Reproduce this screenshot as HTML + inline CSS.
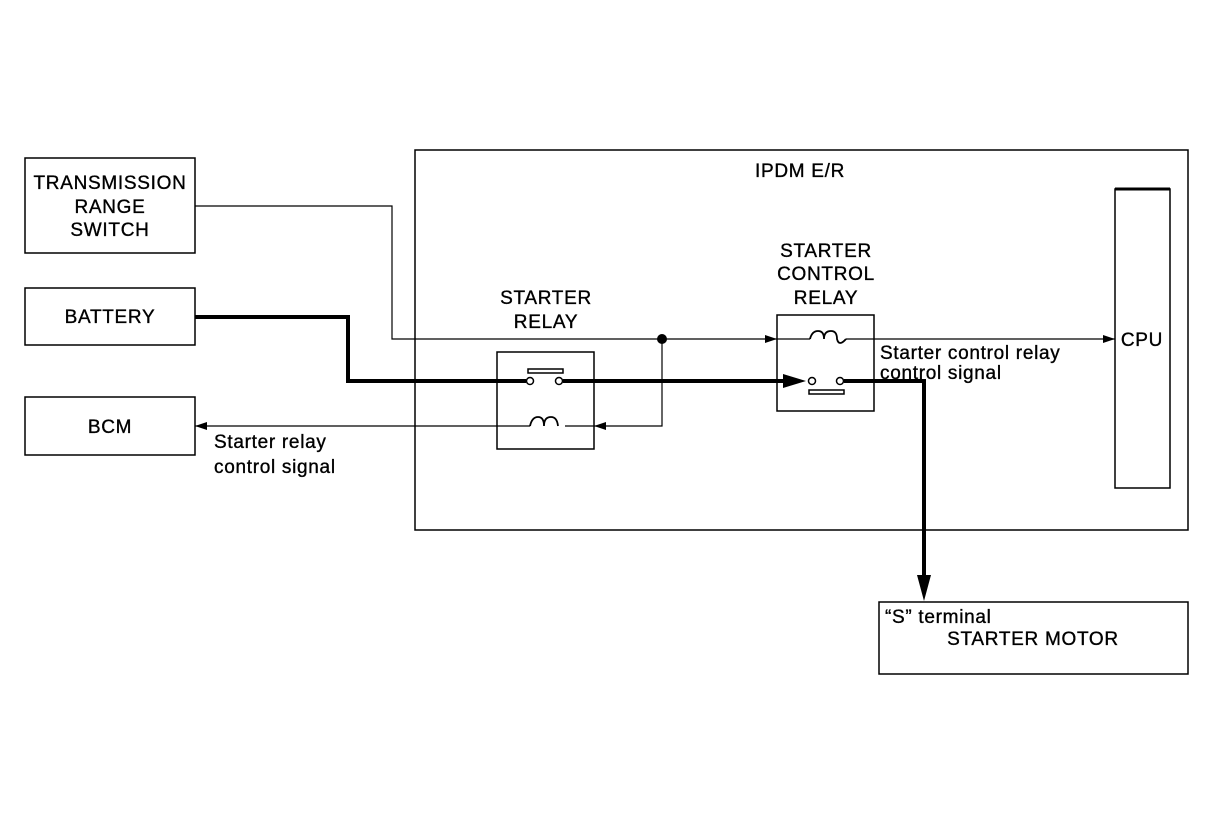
<!DOCTYPE html>
<html><head><meta charset="utf-8"><style>
html,body{margin:0;padding:0;background:#fff;}
svg{display:block;}
text{font-family:"Liberation Sans",Arial,sans-serif;font-size:19px;letter-spacing:0.7px;fill:#000;stroke:#000;stroke-width:0.35;}
</style></head><body>
<svg width="1216" height="824" viewBox="0 0 1216 824" xmlns="http://www.w3.org/2000/svg">
<defs>
<marker id="a" markerWidth="12" markerHeight="8" refX="12" refY="4" orient="auto" markerUnits="userSpaceOnUse"><path d="M0,0 L12,4 L0,8 Z" fill="#000"/></marker>
</defs>
<g fill="none" stroke="#000" stroke-width="1.5">
<rect x="25" y="158" width="170" height="95"/>
<rect x="25" y="288" width="170" height="57"/>
<rect x="25" y="397" width="170" height="58"/>
<rect x="415" y="150" width="773" height="380"/>
<rect x="1115" y="189" width="55" height="299"/>
<rect x="497" y="352" width="97" height="97"/>
<rect x="777" y="315" width="97" height="96"/>
<rect x="879" y="602" width="309" height="72"/>
</g>
<line x1="1115" y1="189" x2="1170" y2="189" stroke="#000" stroke-width="3"/>
<g fill="none" stroke="#000" stroke-width="1.2">
<polyline points="195,206 392,206 392,339 777,339" marker-end="url(#a)"/>
<polyline points="777,339 810,339"/>
<path d="M810,339 q2,-8 8,-8 q6,0 6,8 q0,-8 7,-8 q6,0 6,8 q2,8 9,0" stroke-width="1.8"/>
<polyline points="846,339 874,339 1115,339" marker-end="url(#a)"/>
<polyline points="662,339 662,426 594,426" marker-end="url(#a)"/>
<polyline points="594,426 565,426"/>
<path d="M530,426 q2,-9 8,-9 q6,0 6,9 q0,-9 7,-9 q6,0 7,9" stroke-width="1.8"/>
<polyline points="530,426 195,426" marker-end="url(#a)"/>
</g>
<circle cx="662" cy="339" r="5" fill="#000"/>
<g fill="none" stroke="#000" stroke-width="4">
<polyline points="195,317 348,317 348,381 526,381"/>
<polyline points="563,381 790,381"/>
<polyline points="844,381 924,381 924,580"/>
</g>
<path d="M783,374 L806,381 L783,388 Z" fill="#000"/>
<path d="M917,575 L931,575 L924,601 Z" fill="#000"/>
<g fill="#fff" stroke="#000" stroke-width="1.5">
<circle cx="530" cy="381" r="3.5"/><circle cx="559" cy="381" r="3.5"/>
<circle cx="812" cy="381" r="3.5"/><circle cx="840" cy="381" r="3.5"/>
<rect x="528" y="369" width="35" height="4"/>
<rect x="809" y="390" width="35" height="4"/>
</g>
<g text-anchor="middle">
<text x="110" y="189">TRANSMISSION</text>
<text x="110" y="213">RANGE</text>
<text x="110" y="236">SWITCH</text>
<text x="110" y="323">BATTERY</text>
<text x="110" y="433">BCM</text>
<text x="800" y="177">IPDM E/R</text>
<text x="546" y="304">STARTER</text>
<text x="546" y="328">RELAY</text>
<text x="826" y="257">STARTER</text>
<text x="826" y="280">CONTROL</text>
<text x="826" y="304">RELAY</text>
<text x="1142" y="346">CPU</text>
<text x="1033" y="645">STARTER MOTOR</text>
</g>
<text x="880" y="359">Starter control relay</text>
<text x="880" y="379">control signal</text>
<text x="214" y="448">Starter relay</text>
<text x="214" y="473">control signal</text>
<text x="885" y="623">“S” terminal</text>
</svg>
</body></html>
